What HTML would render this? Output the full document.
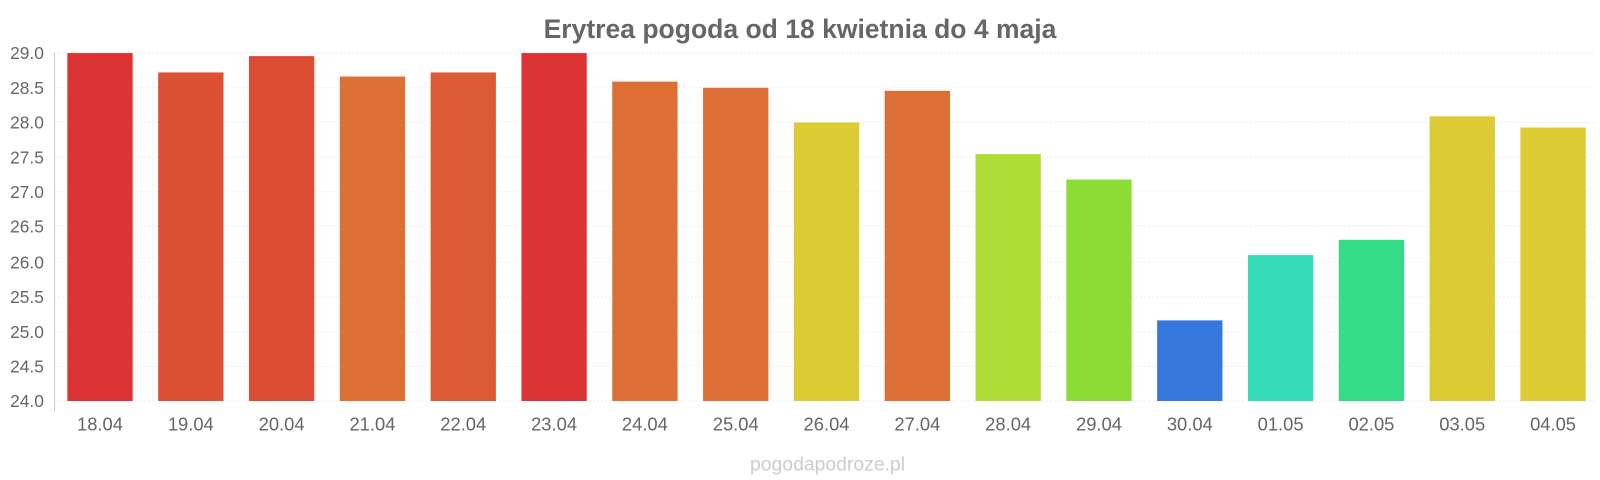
<!DOCTYPE html>
<html><head><meta charset="utf-8"><style>body{margin:0;background:#fff}svg{display:block}</style></head>
<body>
<svg width="1600" height="480" viewBox="0 0 1568 470.4" xmlns="http://www.w3.org/2000/svg" font-family="Liberation Sans, sans-serif">
<text x="784" y="37" text-anchor="middle" font-size="26" font-weight="bold" fill="#666">Erytrea pogoda od 18 kwietnia do 4 maja</text>
<g stroke="#eee" stroke-dasharray="2,2">
<line x1="53" x2="1565" y1="52" y2="52"/><line x1="53" x2="1565" y1="86" y2="86"/><line x1="53" x2="1565" y1="120" y2="120"/><line x1="53" x2="1565" y1="154" y2="154"/><line x1="53" x2="1565" y1="188" y2="188"/><line x1="53" x2="1565" y1="222" y2="222"/><line x1="53" x2="1565" y1="257" y2="257"/><line x1="53" x2="1565" y1="291" y2="291"/><line x1="53" x2="1565" y1="325" y2="325"/><line x1="53" x2="1565" y1="359" y2="359"/><line x1="53" x2="1565" y1="393" y2="393"/>
</g>
<line x1="53.5" x2="53.5" y1="52" y2="403" stroke="#ccc"/>
<g font-size="17" fill="#666" text-anchor="end">
<text x="43" y="58">29.0</text><text x="43" y="92">28.5</text><text x="43" y="126">28.0</text><text x="43" y="160">27.5</text><text x="43" y="194">27.0</text><text x="43" y="228">26.5</text><text x="43" y="263">26.0</text><text x="43" y="297">25.5</text><text x="43" y="331">25.0</text><text x="43" y="365">24.5</text><text x="43" y="399">24.0</text>
</g>
<g>
<rect x="66" y="52" width="64" height="341" fill="#dc3434"/>
<rect x="155" y="71" width="64" height="322" fill="#dc5034"/>
<rect x="244" y="55" width="64" height="338" fill="#dc4c34"/>
<rect x="333" y="75" width="64" height="318" fill="#dd6e34"/>
<rect x="422" y="71" width="64" height="322" fill="#dc5b34"/>
<rect x="511" y="52" width="64" height="341" fill="#dc3434"/>
<rect x="600" y="80" width="64" height="313" fill="#dd6f34"/>
<rect x="689" y="86" width="64" height="307" fill="#dd6f34"/>
<rect x="778" y="120" width="64" height="273" fill="#dccb34"/>
<rect x="867" y="89" width="64" height="304" fill="#dd6f34"/>
<rect x="956" y="151" width="64" height="242" fill="#b0dd35"/>
<rect x="1045" y="176" width="64" height="217" fill="#8bdd35"/>
<rect x="1134" y="314" width="64" height="79" fill="#3577dc"/>
<rect x="1223" y="250" width="64" height="143" fill="#35dcb8"/>
<rect x="1312" y="235" width="64" height="158" fill="#34dc87"/>
<rect x="1401" y="114" width="64" height="279" fill="#dccb34"/>
<rect x="1490" y="125" width="64" height="268" fill="#dccb34"/>
</g>
<g font-size="18" fill="#666" text-anchor="middle">
<text x="98" y="422">18.04</text><text x="187" y="422">19.04</text><text x="276" y="422">20.04</text><text x="365" y="422">21.04</text><text x="454" y="422">22.04</text><text x="543" y="422">23.04</text><text x="632" y="422">24.04</text><text x="721" y="422">25.04</text><text x="810" y="422">26.04</text><text x="899" y="422">27.04</text><text x="988" y="422">28.04</text><text x="1077" y="422">29.04</text><text x="1166" y="422">30.04</text><text x="1255" y="422">01.05</text><text x="1344" y="422">02.05</text><text x="1433" y="422">03.05</text><text x="1522" y="422">04.05</text>
</g>
<text x="811" y="461" text-anchor="middle" font-size="19" fill="#ccc">pogodapodroze.pl</text>
</svg>
</body></html>
